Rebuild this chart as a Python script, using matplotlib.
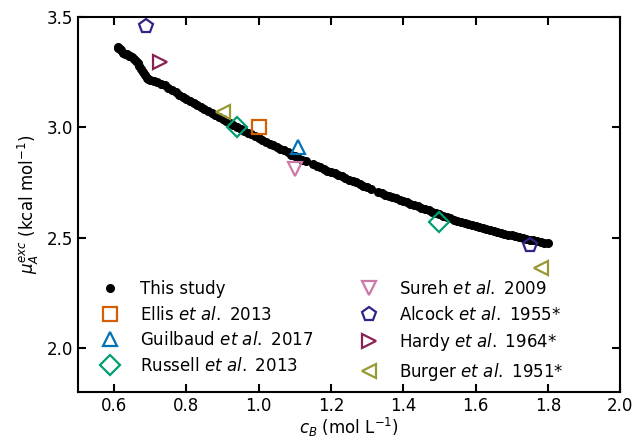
import matplotlib
matplotlib.use('Agg')
import matplotlib.pyplot as plt

# Dados deste estudo (curva preta)
study_x = [0.610, 0.612, 0.615, 0.620, 0.625, 0.630, 0.635, 0.640, 0.645, 0.650,
           0.655, 0.660, 0.665, 0.670, 0.675, 0.680, 0.685, 0.690, 0.695, 0.700,
           0.710, 0.720, 0.730, 0.740, 0.750, 0.760, 0.770, 0.780, 0.790, 0.800,
           0.810, 0.820, 0.830, 0.840, 0.850, 0.860, 0.870, 0.880, 0.890, 0.900,
           0.910, 0.920, 0.930, 0.940, 0.950, 0.960, 0.970, 0.980, 0.990, 1.000,
           1.010, 1.020, 1.030, 1.040, 1.050, 1.060, 1.070, 1.080, 1.090, 1.100,
           1.110, 1.120, 1.130, 1.150, 1.160, 1.170, 1.180, 1.190, 1.200, 1.210,
           1.220, 1.230, 1.240, 1.250, 1.260, 1.270, 1.280, 1.290, 1.300, 1.310,
           1.330, 1.340, 1.350, 1.360, 1.370, 1.380, 1.390, 1.400, 1.410, 1.420,
           1.430, 1.440, 1.450, 1.460, 1.470, 1.480, 1.490, 1.500, 1.510, 1.520,
           1.530, 1.540, 1.550, 1.560, 1.570, 1.580, 1.590, 1.600, 1.610, 1.620,
           1.630, 1.640, 1.650, 1.660, 1.670, 1.680, 1.690, 1.700, 1.710, 1.720,
           1.730, 1.740, 1.750, 1.760, 1.770, 1.780, 1.790, 1.800]
study_y = [3.365, 3.360, 3.355, 3.350, 3.335, 3.330, 3.330, 3.325, 3.322, 3.320,
           3.310, 3.300, 3.290, 3.278, 3.265, 3.250, 3.235, 3.225, 3.218, 3.215,
           3.210, 3.205, 3.198, 3.190, 3.180, 3.170, 3.160, 3.148, 3.138, 3.130,
           3.120, 3.110, 3.100, 3.092, 3.082, 3.072, 3.064, 3.055, 3.046, 3.038,
           3.028, 3.020, 3.010, 3.000, 2.993, 2.985, 2.976, 2.968, 2.960, 2.952,
           2.944, 2.935, 2.926, 2.918, 2.910, 2.902, 2.895, 2.886, 2.876, 2.868,
           2.862, 2.852, 2.846, 2.832, 2.826, 2.820, 2.812, 2.804, 2.798, 2.792,
           2.786, 2.778, 2.772, 2.763, 2.757, 2.750, 2.742, 2.736, 2.728, 2.720,
           2.708, 2.702, 2.695, 2.690, 2.684, 2.678, 2.672, 2.666, 2.660, 2.654,
           2.648, 2.642, 2.636, 2.630, 2.623, 2.617, 2.611, 2.605, 2.598, 2.593,
           2.588, 2.582, 2.577, 2.572, 2.567, 2.562, 2.557, 2.552, 2.547, 2.543,
           2.538, 2.534, 2.530, 2.526, 2.522, 2.518, 2.514, 2.510, 2.506, 2.502,
           2.498, 2.494, 2.490, 2.487, 2.484, 2.480, 2.477, 2.474]

# Dados da literatura
ellis_x, ellis_y = [1.00], [3.00]
guilbaud_x, guilbaud_y = [1.11], [2.91]
russell_x, russell_y = [0.94, 1.50], [3.00, 2.57]
sureh_x, sureh_y = [1.10], [2.81]
alcock_x, alcock_y = [0.688, 1.75], [3.46, 2.467]
hardy_x, hardy_y = [0.727], [3.296]
burger_x, burger_y = [0.90, 1.78], [3.07, 2.36]

plt.rcParams['font.size'] = 12

fig = plt.figure(figsize=(6.36, 4.41), dpi=100)
ax = fig.add_axes([0.1226, 0.111, 0.8524, 0.8505])

ax.plot(study_x, study_y, 'o', color='black', ms=5.5, label='This study')

mk = dict(ls='none', mfc='none', ms=10, mew=1.6)
ax.plot(ellis_x, ellis_y, 's', color='#D55E00', label=r'Ellis $\it{et\ al.}$ 2013', **mk)
ax.plot(guilbaud_x, guilbaud_y, '^', color='#0072B2', label=r'Guilbaud $\it{et\ al.}$ 2017', **mk)
ax.plot(russell_x, russell_y, 'D', color='#009E73', label=r'Russell $\it{et\ al.}$ 2013', **mk)
ax.plot(sureh_x, sureh_y, 'v', color='#CC79A7', label=r'Sureh $\it{et\ al.}$ 2009', **mk)
ax.plot(alcock_x, alcock_y, 'p', color='#332288', label=r'Alcock $\it{et\ al.}$ 1955*', **mk)
ax.plot(hardy_x, hardy_y, '>', color='#882255', label=r'Hardy $\it{et\ al.}$ 1964*', **mk)
ax.plot(burger_x, burger_y, '<', color='#999933', label=r'Burger $\it{et\ al.}$ 1951*', **mk)

ax.set_xlim(0.5, 2.0)
ax.set_ylim(1.8, 3.5)
ax.set_xticks([0.6, 0.8, 1.0, 1.2, 1.4, 1.6, 1.8, 2.0])
ax.set_yticks([2.0, 2.5, 3.0, 3.5])
ax.tick_params(direction='in', top=True, right=True, length=6, width=1.5)
for s in ax.spines.values():
    s.set_linewidth(1.5)

ax.set_xlabel(r'$c_B$ (mol L$^{-1}$)', labelpad=1)
ax.set_ylabel(r'$\mu_A^{exc}$ (kcal mol$^{-1}$)')

ax.legend(ncol=2, loc='lower left', bbox_to_anchor=(0.0, -0.015), frameon=False,
          columnspacing=2.35, handletextpad=0.8, labelspacing=0.45)

plt.savefig('out.png', dpi=100)
